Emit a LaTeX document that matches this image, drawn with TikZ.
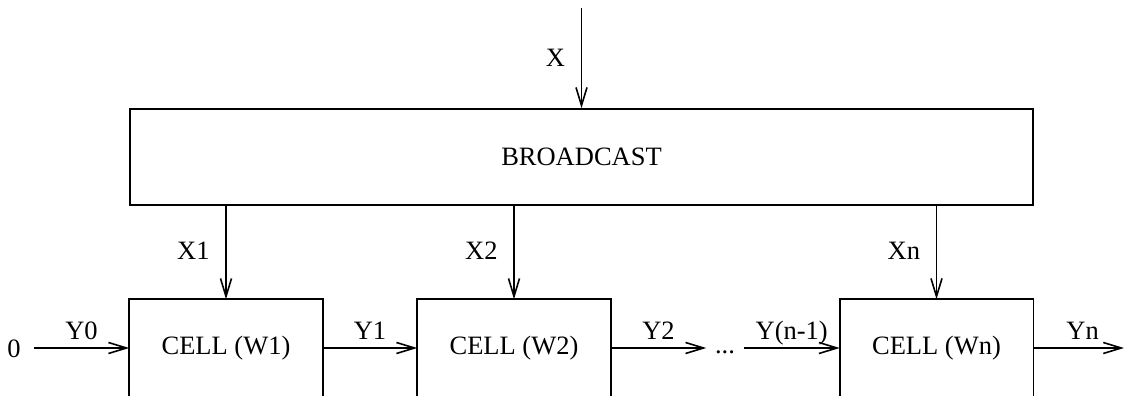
\documentclass[tikz,border=0pt]{standalone}
\usepackage{fontspec}
\setmainfont{Liberation Serif}
\usetikzlibrary{arrows.meta}
\begin{document}
\begin{tikzpicture}[x=0.5pt,y=-0.5pt,
  line width=0.8pt,
  font=\fontsize{13.25}{15}\selectfont,
  arr/.style={-{Straight Barb[length=9pt,width=5.5pt,line width=0.8pt]}},
  cellbox/.style={minimum width=96pt,minimum height=48pt,inner sep=0pt},
  lab/.style={anchor=base,yshift=4.5pt},
  vlab/.style={anchor=base east,xshift=-4.5pt}]
\useasboundingbox (0,0) rectangle (1125,396);
% broadcast box
\node[draw,minimum width=451.5pt,minimum height=48pt,inner sep=0pt] (bc) at (581.5,157) {BROADCAST};
\coordinate (xin) at (581.5,8);
% cells (open at the bottom)
\node[cellbox] (c1) at (226,348) {CELL (W1)};
\node[cellbox] (c2) at (514,348) {CELL (W2)};
\node[cellbox] (cn) at (936.5,348) {CELL (Wn)};
\foreach \c in {c1,c2,cn}{
  \draw (\c.south west) -- (\c.north west) -- (\c.north east) -- (\c.south east);
}
% input/outputs
\node[inner xsep=6.2pt,inner ysep=0pt] (zero) at (14,349) {0};
\node[inner xsep=4pt,inner ysep=0pt,anchor=base] (dots) at (725,353) {...};
\coordinate (yout) at (1124,348);
% vertical arrows
\draw[arr] (xin) -- node[vlab,pos=0.584] {X} (bc.north);
\draw[arr] (bc.south -| c1.north) -- node[vlab,pos=0.57] {X1} (c1.north);
\draw[arr] (bc.south -| c2.north) -- node[vlab,pos=0.57] {X2} (c2.north);
\draw[arr] (bc.south -| cn.north) -- node[vlab,pos=0.57] {Xn} (cn.north);
% horizontal arrows
\draw[arr] (zero.east |- c1.west) -- node[lab] {Y0} (c1.west);
\draw[arr] (c1.east) -- node[lab] {Y1} (c2.west);
\draw[arr] (c2.east) -- node[lab] {Y2} (dots.west |- c2.east);
\draw[arr] (dots.east |- cn.west) -- node[lab] {Y(n-1)} (cn.west);
\draw[arr] (cn.east) -- node[lab,xshift=2pt] {Yn} (yout);
\end{tikzpicture}
\end{document}
